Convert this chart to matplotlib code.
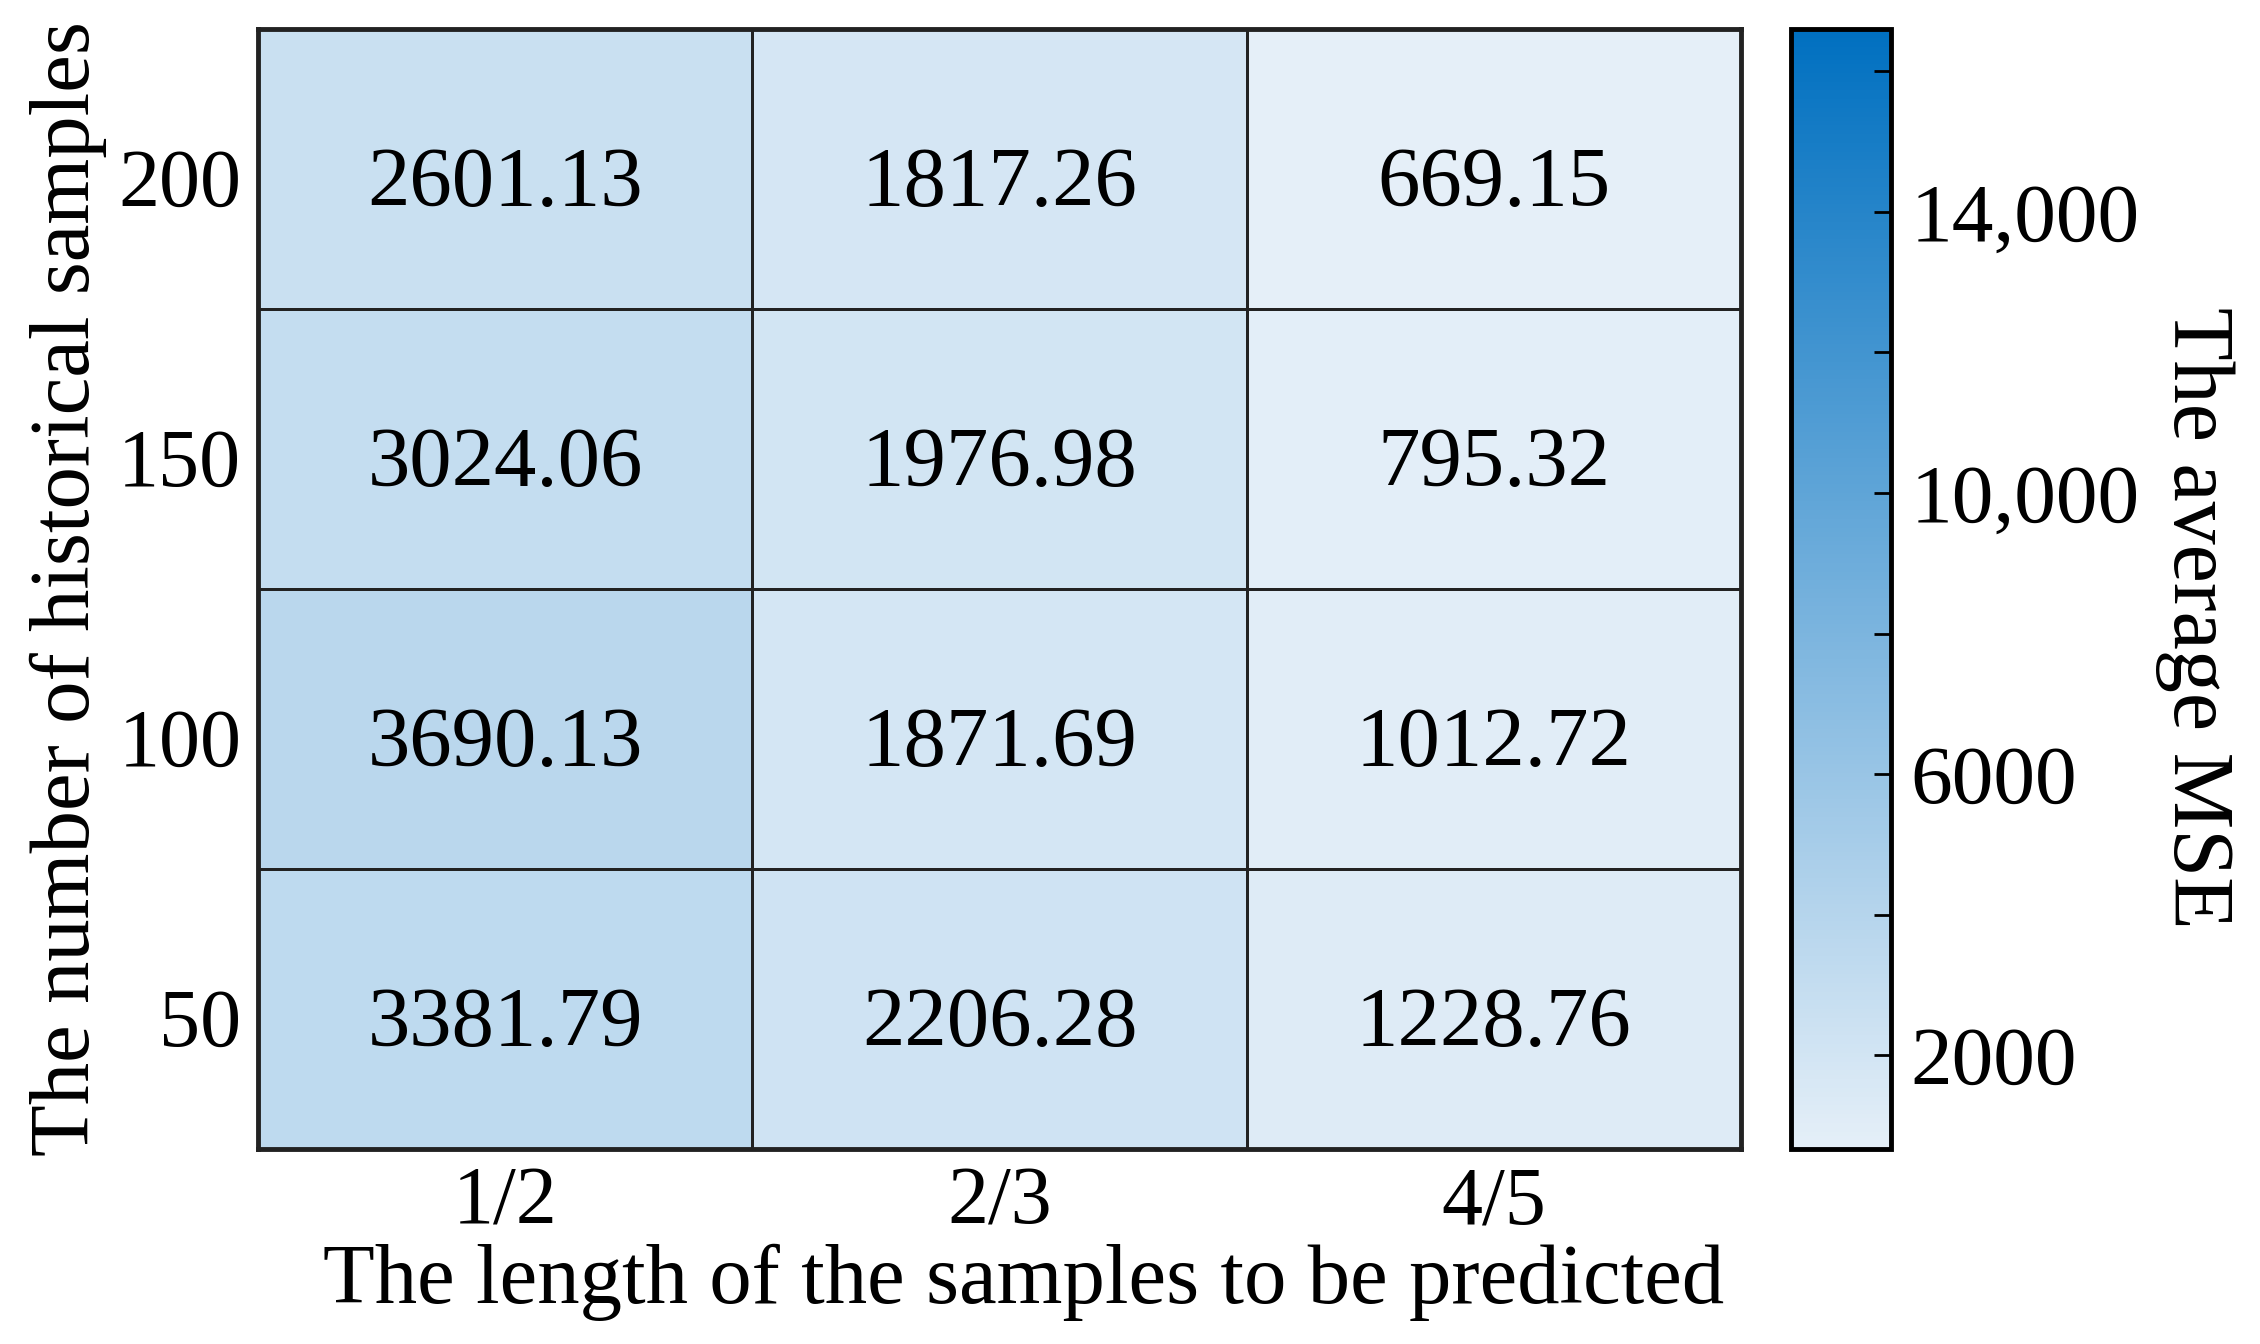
import matplotlib.pyplot as plt
import numpy as np
from matplotlib.colors import LinearSegmentedColormap, Normalize
from matplotlib.ticker import FuncFormatter

plt.rcParams['font.family'] = ['Liberation Serif', 'DejaVu Serif']

# data (rows from top to bottom as in the picture)
history = ['200', '150', '100', '50']
pred_len = ['1/2', '2/3', '4/5']
mse = np.array([
    [2601.13, 1817.26, 669.15],
    [3024.06, 1976.98, 795.32],
    [3690.13, 1871.69, 1012.72],
    [3381.79, 2206.28, 1228.76],
])
vmin, vmax = 669.15, 16600
cbar_ticks = [2000, 4000, 6000, 8000, 10000, 12000, 14000, 16000]
cbar_labels = {2000: '2000', 6000: '6000', 10000: '10,000', 14000: '14,000'}

cmap = LinearSegmentedColormap.from_list('blues', ['#E5EFF8', '#0070C0'])
norm = Normalize(vmin=vmin, vmax=vmax)

W, H = 2260, 1344
fig = plt.figure(figsize=(W / 100, H / 100), dpi=100)
ax = fig.add_axes([258 / W, 195 / H, 1483 / W, 1120 / H])
cax = fig.add_axes([1791 / W, 195 / H, 100 / W, 1120 / H])

nr, nc = mse.shape
mesh = ax.pcolormesh(np.arange(nc + 1), np.arange(nr + 1), mse[::-1], cmap=cmap, norm=norm,
                     edgecolors='#222222', linewidth=2)
for i in range(nr):
    for j in range(nc):
        # text sits a little below the cell centre in the original
        ax.text(j + 0.5, nr - i - 0.56, f'{mse[i, j]:.2f}', ha='center', va='center', fontsize=61)

ax.set_xlim(0, nc)
ax.set_ylim(0, nr)
ax.set_xticks(np.arange(nc) + 0.5)
ax.set_xticklabels(pred_len)
ax.set_yticks(np.arange(nr) + 0.47)
ax.set_yticklabels(history[::-1])
ax.tick_params(length=0, labelsize=59, pad=12)
for s in ax.spines.values():
    s.set_linewidth(3.5)
    s.set_color('#222222')
ax.set_xlabel('The length of the samples to be predicted', fontsize=61, labelpad=2)
ax.xaxis.label.set_x(0.516)
ax.set_ylabel('The number of historical samples', fontsize=61, labelpad=8)

cb = fig.colorbar(mesh, cax=cax)
cb.outline.set_linewidth(3.5)
cb.set_ticks(cbar_ticks)
cb.ax.yaxis.set_major_formatter(FuncFormatter(lambda v, p: cbar_labels.get(int(round(v)), '')))
cb.ax.tick_params(direction='in', length=12, width=2, labelsize=60, pad=14)
cb.set_label('The average MSE', fontsize=62, rotation=270, labelpad=68)
cb.ax.yaxis.label.set_y(0.474)

fig.savefig('out.png', dpi=100)
